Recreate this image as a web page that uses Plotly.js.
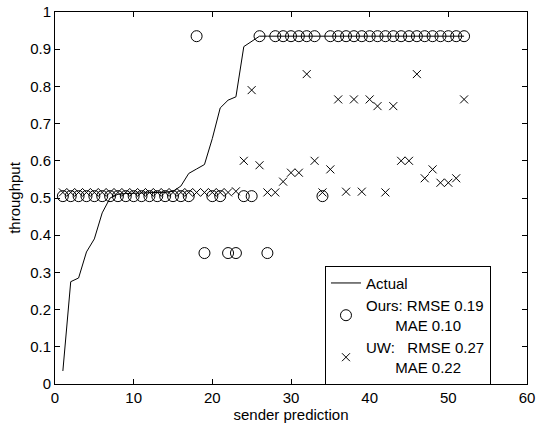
<!DOCTYPE html>
<html>
<head>
<meta charset="utf-8">
<script src="https://cdn.plot.ly/plotly-3.0.1.min.js"></script>
<style>html,body{margin:0;padding:0;background:#fff;}#chart{width:538px;height:430px;}</style>
</head>
<body>
<div id="chart"></div>
<script>
const xs = [1,2,3,4,5,6,7,8,9,10,11,12,13,14,15,16,17,18,19,20,21,22,23,24,25,26,27,28,29,30,31,32,33,34,35,36,37,38,39,40,41,42,43,44,45,46,47,48,49,50,51,52];
const actual = [0.035,0.275,0.285,0.355,0.39,0.46,0.50,0.51,0.512,0.513,0.514,0.515,0.515,0.515,0.518,0.532,0.566,0.578,0.59,0.66,0.742,0.763,0.772,0.907,0.922,0.935,0.935,0.935,0.935,0.935,0.935,0.935,0.935,0.935,0.935,0.935,0.935,0.935,0.935,0.935,0.935,0.935,0.935,0.935,0.935,0.935,0.935,0.935,0.935,0.935,0.935,0.935];
const ours = [0.505,0.505,0.505,0.505,0.505,0.505,0.505,0.505,0.505,0.505,0.505,0.505,0.505,0.505,0.505,0.505,0.505,0.935,0.352,0.505,0.505,0.352,0.352,0.505,0.505,0.935,0.352,0.935,0.935,0.935,0.935,0.935,0.935,0.505,0.935,0.935,0.935,0.935,0.935,0.935,0.935,0.935,0.935,0.935,0.935,0.935,0.935,0.935,0.935,0.935,0.935,0.935];
const uw = [0.515,0.515,0.515,0.515,0.515,0.515,0.515,0.515,0.515,0.515,0.515,0.515,0.515,0.515,0.515,0.515,0.515,0.515,0.515,0.515,0.515,0.515,0.518,0.60,0.79,0.588,0.515,0.515,0.544,0.568,0.568,0.833,0.60,0.515,0.577,0.765,0.517,0.765,0.517,0.765,0.747,0.515,0.747,0.60,0.60,0.833,0.553,0.577,0.541,0.541,0.553,0.765];
const names = ["Actual", "Ours: RMSE 0.19<br>\u00a0\u00a0\u00a0\u00a0\u00a0\u00a0\u00a0MAE 0.10", "UW:\u00a0\u00a0\u00a0RMSE 0.27<br>\u00a0\u00a0\u00a0\u00a0\u00a0\u00a0\u00a0MAE 0.22"];
const xTicks = [0,10,20,30,40,50,60];
const yTicks = [0,0.1,0.2,0.3,0.4,0.5,0.6,0.7,0.8,0.9,1];
const yTickText = ["0","0.1","0.2","0.3","0.4","0.5","0.6","0.7","0.8","0.9","1"];

const traces = [
  {x: xs, y: actual, name: names[0], type: 'scatter', mode: 'lines', line: {color: '#000', width: 1}},
  {x: xs, y: ours, name: names[1], type: 'scatter', mode: 'markers', marker: {symbol: 'circle-open', size: 11, color: '#000', line: {width: 1, color: '#000'}}},
  {x: xs, y: uw, name: names[2], type: 'scatter', mode: 'markers', marker: {symbol: 'x-thin-open', size: 8, color: '#000', line: {width: 1, color: '#000'}}}
];
const axisCommon = {
  showline: true, mirror: 'ticks', linecolor: '#000', linewidth: 1,
  ticks: 'inside', ticklen: 5, tickcolor: '#000', showgrid: false, zeroline: false,
  tickfont: {family: 'Liberation Sans, Arial, sans-serif', size: 15, color: '#000'}
};
const layout = {
  width: 538, height: 430,
  margin: {l: 55, r: 11, t: 12, b: 46},
  paper_bgcolor: '#fff', plot_bgcolor: '#fff',
  font: {family: 'Liberation Sans, Arial, sans-serif', size: 15, color: '#000'},
  xaxis: Object.assign({}, axisCommon, {range: [0, 60], tickvals: xTicks, ticktext: xTicks.map(String),
    title: {text: 'sender prediction', standoff: 1, font: {size: 15, color: '#000'}}}),
  yaxis: Object.assign({}, axisCommon, {range: [0, 1], tickvals: yTicks, ticktext: yTickText,
    title: {text: 'throughput', standoff: 5, font: {size: 15, color: '#000'}}}),
  showlegend: true,
  legend: {x: 0.572, y: 0.318, xanchor: 'left', yanchor: 'top', bgcolor: '#fff', bordercolor: '#000', borderwidth: 1,
    font: {size: 15, color: '#000'}, tracegroupgap: 0, itemwidth: 30},
};
Plotly.newPlot('chart', traces, layout, {displayModeBar: false, staticPlot: true});
</script>
</body>
</html>
